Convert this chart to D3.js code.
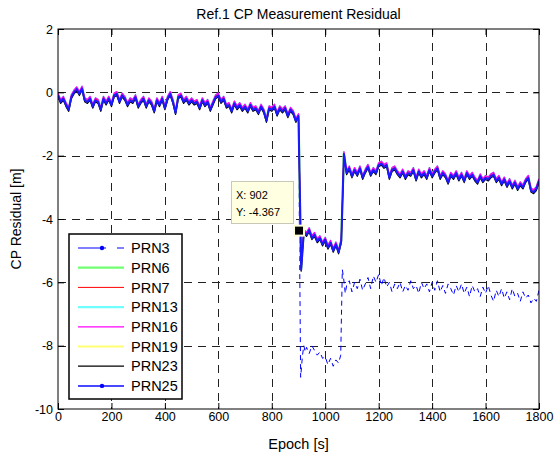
<!DOCTYPE html>
<html><head><meta charset="utf-8">
<script src="https://cdn.jsdelivr.net/npm/d3@7"></script>
<style>
body{margin:0;background:#fff}
svg{display:block}
text{font-family:"Liberation Sans",Arial,sans-serif;fill:#000}
</style>
</head><body><svg id="c" width="558" height="455"></svg>
<script>
// ---------------- DATA ----------------
const titleText = "Ref.1 CP Measurement Residual";
const xLabel = "Epoch [s]";
const yLabel = "CP Residual [m]";
const xTicks = [0,200,400,600,800,1000,1200,1400,1600,1800];
const yTicks = [2,0,-2,-4,-6,-8,-10];

// sample epochs of the common residual profile (every 10 s)
const epochs = d3.range(0, 1801, 10);
// common residual profile (PRN25, drawn on top of the bundle)
const baseResidual = [
 -0.1,-0.3,-0.2,-0.4,-0.55,-0.15,0.0,0.1,-0.05,0.12,
 -0.25,-0.3,-0.2,-0.45,-0.25,-0.3,-0.55,-0.2,-0.35,-0.2,
 -0.4,-0.1,-0.05,-0.3,-0.1,-0.2,-0.4,-0.25,-0.3,-0.15,
 -0.45,-0.3,-0.2,-0.45,-0.25,-0.35,-0.6,-0.25,-0.4,-0.2,
 -0.5,-0.2,-0.05,-0.3,-0.65,-0.15,-0.1,-0.3,-0.2,-0.35,
 -0.25,-0.35,-0.3,-0.5,-0.25,-0.4,-0.3,-0.55,-0.35,-0.15,
 -0.1,-0.3,-0.2,-0.45,-0.4,-0.6,-0.35,-0.5,-0.4,-0.55,
 -0.45,-0.6,-0.4,-0.55,-0.5,-0.65,-0.45,-0.6,-0.9,-0.5,
 -0.55,-0.45,-0.7,-0.5,-0.6,-0.5,-0.75,-0.55,-0.65,-0.9,
 -0.75,-5.6,-4.4,-4.5,-4.35,-4.6,-4.5,-4.7,-4.6,-4.8,
 -4.65,-4.9,-4.75,-5.0,-4.8,-5.05,-4.7,-1.95,-2.55,-2.4,
 -2.65,-2.45,-2.6,-2.4,-2.7,-2.5,-2.35,-2.6,-2.45,-2.55,
 -2.3,-2.25,-2.35,-2.3,-2.7,-2.45,-2.4,-2.55,-2.65,-2.5,
 -2.7,-2.55,-2.6,-2.45,-2.75,-2.5,-2.65,-2.55,-2.7,-2.45,
 -2.65,-2.5,-2.4,-2.7,-2.55,-2.65,-2.85,-2.6,-2.7,-2.55,
 -2.75,-2.6,-2.8,-2.55,-2.7,-2.6,-2.75,-2.85,-2.65,-2.8,
 -2.7,-2.75,-2.65,-2.6,-2.8,-2.7,-2.9,-2.75,-2.95,-2.8,
 -3.0,-2.85,-3.05,-2.9,-3.0,-2.8,-2.7,-3.1,-3.15,-3.05,
 -2.8
];

const prnNames   = ["PRN3","PRN6","PRN7","PRN13","PRN16","PRN19","PRN23","PRN25"];
const seriesOffsets = [-0.03, 0.02, 0.04, 0.06, 0.075, 0.02, -0.05, 0.0];
// drawing order (back to front)
const drawOrder = ["PRN3","PRN13","PRN6","PRN19","PRN7","PRN16","PRN23","PRN25"];

// PRN3 leaves the bundle after the jump at ~900 s
const prn3SplitEpoch = 900;
const prn3TailEpochs = [908,915,920,925,930,940,950,960,970,980,990,1000,1010,1020,1030,1040,1050,1058,1064,1068,1075]
  .concat(d3.range(1080, 1801, 10));
const prn3TailValues = [
 -9.0,-8.3,-8.0,-8.2,-8.05,-8.25,-8.0,-8.15,-8.3,-8.2,-8.4,-8.35,-8.6,-8.4,-8.65,-8.45,-8.55,-8.3,-5.6,-5.8,-6.35,
 -6.1,-5.95,-6.3,-6.0,-6.2,-5.9,-6.25,-6.05,-5.85,-6.2,
 -5.8,-6.0,-5.75,-6.1,-5.85,-6.15,-6.0,-6.3,-6.05,-6.2,
 -6.0,-6.3,-6.1,-6.25,-5.95,-6.2,-6.1,-6.35,-6.0,-6.2,
 -6.05,-6.3,-6.0,-6.25,-5.95,-6.3,-6.1,-6.35,-6.05,-6.2,
 -6.4,-6.1,-6.3,-6.05,-6.35,-6.15,-6.45,-6.1,-6.3,-6.2,
 -6.45,-6.15,-6.35,-6.1,-6.4,-6.6,-6.25,-6.45,-6.2,-6.5,
 -6.3,-6.55,-6.2,-6.45,-6.35,-6.6,-6.3,-6.5,-6.4,-6.65,
 -6.5,-6.6,-6.25
];

// data tip
const tipX = 902, tipY = -4.367;

// ---------------- STYLE ----------------
const styles = {
  PRN3:  {color:"#0000ff", w:1,   dash:"5,4", marker:true,  legendDash:true},
  PRN6:  {color:"#70ff70", w:2.2},
  PRN7:  {color:"#ff0000", w:1},
  PRN13: {color:"#70ffff", w:2.2},
  PRN16: {color:"#ff00ff", w:1.2},
  PRN19: {color:"#ffff70", w:2.2},
  PRN23: {color:"#000000", w:1.2},
  PRN25: {color:"#1a1aff", w:2, legendColor:"#4848ff", marker:true}
};

const svg = d3.select("#c");
const L = 58, R = 539, T = 29, B = 409;
const x = d3.scaleLinear().domain([0,1800]).range([L,R]);
const y = d3.scaleLinear().domain([-10,2]).range([B,T]);

svg.append("rect").attr("width",558).attr("height",455).attr("fill","#fff");

svg.append("defs").append("clipPath").attr("id","clip")
  .append("rect").attr("x",L).attr("y",T).attr("width",R-L).attr("height",B-T);

// grid
const grid = svg.append("g").attr("stroke","#222").attr("stroke-width",1).attr("stroke-dasharray","8,6");
xTicks.filter(d=>d>0 && d<1800).forEach(d=>{
  grid.append("line").attr("x1",Math.round(x(d))+0.5).attr("x2",Math.round(x(d))+0.5).attr("y1",T).attr("y2",B);
});
yTicks.filter(d=>d<2 && d>-10).forEach(d=>{
  grid.append("line").attr("y1",Math.round(y(d))+0.5).attr("y2",Math.round(y(d))+0.5).attr("x1",L).attr("x2",R);
});

// series
const line = d3.line().x(d=>x(d[0])).y(d=>y(d[1]));
const plot = svg.append("g").attr("clip-path","url(#clip)");
drawOrder.forEach(name=>{
  const i = prnNames.indexOf(name);
  let pts;
  if(name==="PRN3"){
    pts = epochs.map((e,k)=>[e, baseResidual[k]+seriesOffsets[i]]).filter(p=>p[0]<=prn3SplitEpoch);
    pts = pts.concat(prn3TailEpochs.map((e,k)=>[e, prn3TailValues[k]]));
  } else {
    pts = epochs.map((e,k)=>[e, baseResidual[k]+seriesOffsets[i]]);
  }
  const s = styles[name];
  plot.append("path").datum(pts).attr("d",line)
    .attr("fill","none").attr("stroke",s.color).attr("stroke-width",s.w)
    .attr("stroke-linejoin","round")
    .attr("stroke-dasharray",s.dash||null);
});

// axes (ticks inward)
const fmt = d=>String(d);
const gx = svg.append("g").attr("transform",`translate(0,${B})`)
  .call(d3.axisBottom(x).tickValues(xTicks).tickSizeInner(-6).tickSizeOuter(0).tickPadding(3).tickFormat(fmt));
const gxt = svg.append("g").attr("transform",`translate(0,${T})`)
  .call(d3.axisTop(x).tickValues(xTicks).tickSizeInner(-6).tickSizeOuter(0).tickFormat(""));
const gy = svg.append("g").attr("transform",`translate(${L},0)`)
  .call(d3.axisLeft(y).tickValues(yTicks).tickSizeInner(-6).tickSizeOuter(0).tickPadding(5).tickFormat(fmt));
const gyr = svg.append("g").attr("transform",`translate(${R},0)`)
  .call(d3.axisRight(y).tickValues(yTicks).tickSizeInner(-6).tickSizeOuter(0).tickFormat(""));
[gx,gxt,gy,gyr].forEach(g=>{
  g.select(".domain").remove();
  g.selectAll(".tick line").attr("stroke","#000");
  g.selectAll("text").attr("font-size","12.5px").attr("fill","#000")
    .style("font-family",'"Liberation Sans",Arial,sans-serif');
});
svg.append("rect").attr("x",L).attr("y",T).attr("width",R-L).attr("height",B-T)
  .attr("fill","none").attr("stroke","#000").attr("stroke-width",1);

// titles
svg.append("text").attr("x",(L+R)/2).attr("y",19).attr("text-anchor","middle")
  .attr("font-size","14px").text(titleText);
svg.append("text").attr("x",(L+R)/2).attr("y",449).attr("text-anchor","middle")
  .attr("font-size","14.5px").text(xLabel);
svg.append("text").attr("transform",`translate(21,${(T+B)/2}) rotate(-90)`).attr("text-anchor","middle")
  .attr("font-size","14px").text(yLabel);

// data tip
const tip = svg.append("g");
tip.append("rect").attr("x",231.5).attr("y",181.5).attr("width",62).attr("height",42)
  .attr("fill","#ffffe1").attr("stroke","#c8c8b8").attr("stroke-width",1);
tip.append("text").attr("x",236).attr("y",199).attr("font-size","11px").text("X: "+tipX);
tip.append("text").attr("x",236).attr("y",216).attr("font-size","11px").text("Y: "+tipY);
tip.append("rect").attr("x",x(tipX)-5).attr("y",y(tipY)-5).attr("width",10).attr("height",10)
  .attr("fill","#000").attr("stroke","#ffffd8").attr("stroke-width",2);

// legend
const lg = svg.append("g");
lg.append("rect").attr("x",69).attr("y",234).attr("width",113).attr("height",165)
  .attr("fill","#fff").attr("stroke","#000").attr("stroke-width",1.5);
prnNames.forEach((name,i)=>{
  const s = styles[name];
  const c = s.legendColor || s.color;
  const yy = 248 + i*19.7;
  if(s.legendDash){
    lg.append("line").attr("x1",78).attr("x2",106).attr("y1",yy).attr("y2",yy)
      .attr("stroke",c).attr("stroke-width",s.w);
    lg.append("line").attr("x1",117).attr("x2",124).attr("y1",yy).attr("y2",yy)
      .attr("stroke",c).attr("stroke-width",s.w);
  } else {
    lg.append("line").attr("x1",78).attr("x2",124).attr("y1",yy).attr("y2",yy)
      .attr("stroke",c).attr("stroke-width",s.w);
  }
  if(s.marker){
    lg.append("circle").attr("cx",102).attr("cy",yy).attr("r",2.2).attr("fill","#0000ff");
  }
  lg.append("text").attr("x",131).attr("y",yy).attr("dy","0.36em").attr("font-size","14.5px").text(name);
});
</script></body></html>
